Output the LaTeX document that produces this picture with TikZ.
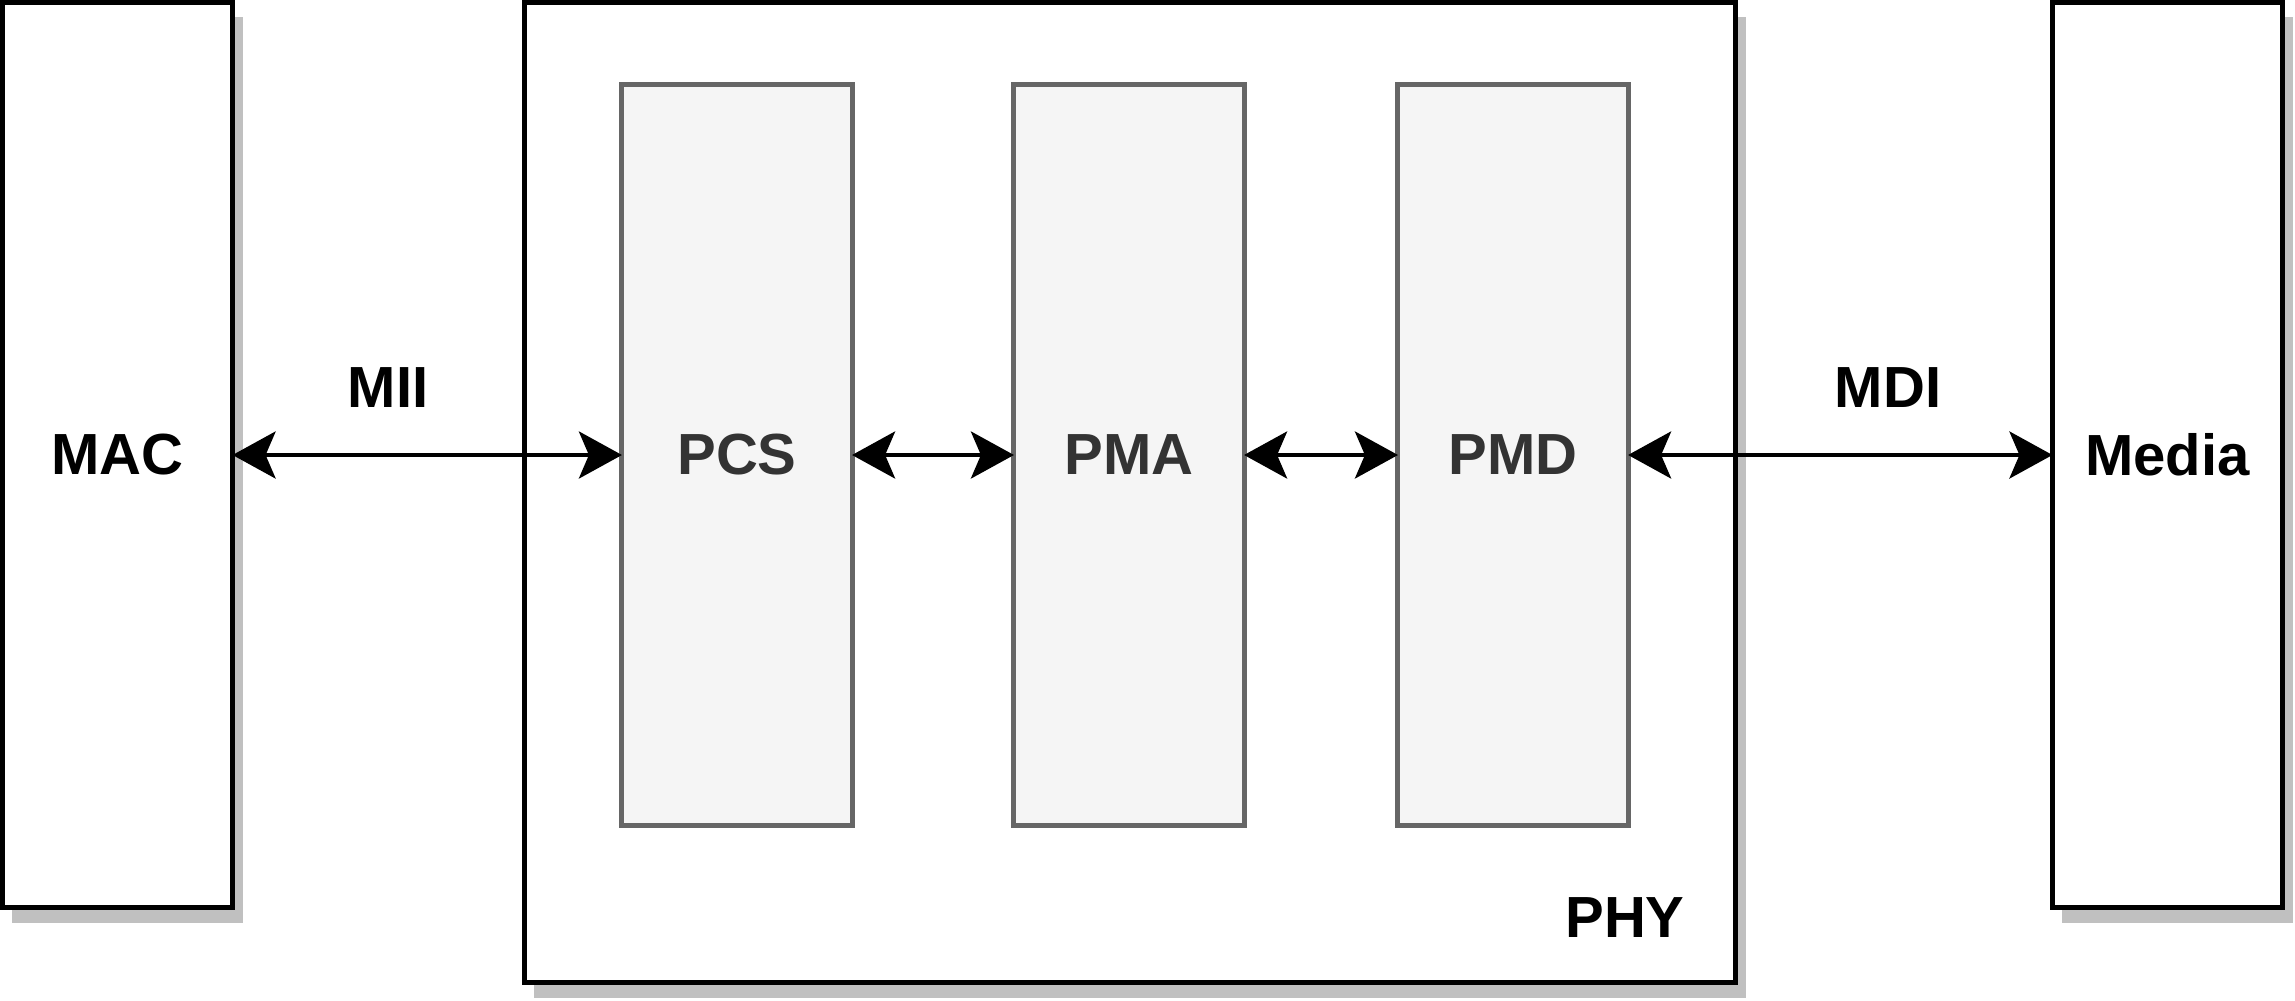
\documentclass[tikz,border=0pt]{standalone}
\usepackage{fontspec}
\setmainfont{Liberation Sans}
\usetikzlibrary{arrows.meta,shadows}
\definecolor{layerfill}{HTML}{F5F5F5}
\definecolor{layerline}{HTML}{666666}
\definecolor{layertext}{HTML}{333333}
\definecolor{shadowgray}{HTML}{C0C0C0}
\tikzset{
	blockbox/.style={draw,line width=0.05cm,fill=white,inner sep=0pt,outer sep=0pt,
		font=\fontsize{16.5}{20}\selectfont\bfseries,
		drop shadow={shadow xshift=0.1cm,shadow yshift=-0.15cm,fill=shadowgray,opacity=1}},
	layerbox/.style={draw=layerline,line width=0.05cm,fill=layerfill,text=layertext,
		inner sep=0pt,outer sep=0pt,minimum width=2.30cm,minimum height=7.40cm,
		font=\fontsize{16.5}{20}\selectfont\bfseries},
	busname/.style={font=\fontsize{16.5}{20}\selectfont\bfseries},
	link/.style={line width=0.04cm,{Stealth[length=0.43cm,width=0.47cm,inset=0.1cm]}-{Stealth[length=0.43cm,width=0.47cm,inset=0.1cm]}}
}
\begin{document}
\begin{tikzpicture}[x=0.01cm,y=-0.01cm]
	\useasboundingbox (0,0) rectangle (2295,1000);
	%
	\node[blockbox,minimum width=2.30cm,minimum height=9.05cm] (mac) at (117.5,455) {MAC};
	\node[blockbox,minimum width=12.11cm,minimum height=9.80cm] (phy) at (1130,492.5) {};
	\node[blockbox,minimum width=2.30cm,minimum height=9.05cm] (media) at (2167.5,455) {Media};
	%
	\node[layerbox] (pcs) at (737,455) {PCS};
	\node[layerbox] (pma) at (1129,455) {PMA};
	\node[layerbox] (pmd) at (1513,455) {PMD};
	%
	\node[busname] (mii) at (388,388) {MII};
	\node[busname] (mdi) at (1888,388) {MDI};
	\node[busname] (phylabel) at (1625,918) {PHY};
	%
	\draw[link] (mac.east) -- (pcs.west);
	\draw[link] (pcs.east) -- (pma.west);
	\draw[link] (pma.east) -- (pmd.west);
	\draw[link] (pmd.east) -- (media.west);
\end{tikzpicture}
\end{document}
